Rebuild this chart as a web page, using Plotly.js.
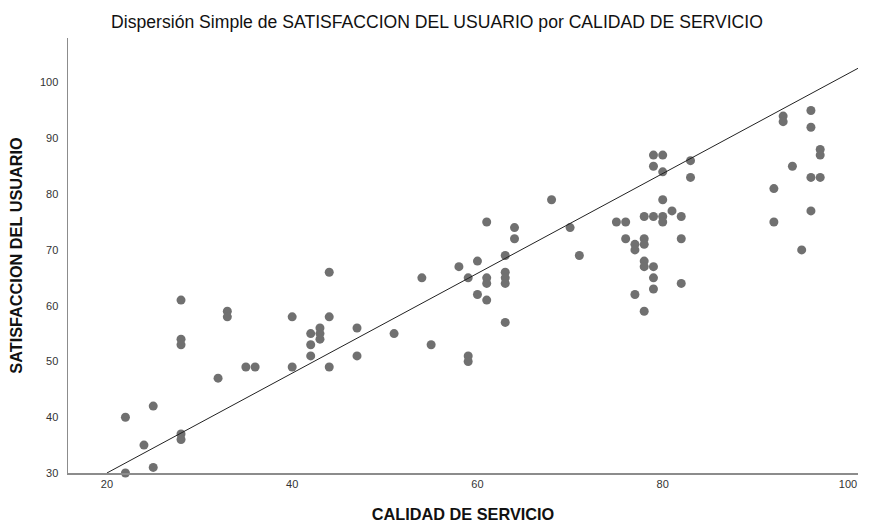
<!DOCTYPE html>
<html>
<head>
<meta charset="utf-8">
<script src="https://cdn.plot.ly/plotly-3.0.1.min.js"></script>
<style>html,body{margin:0;padding:0;background:#fff;}#chart{width:874px;height:525px;}</style>
</head>
<body>
<div id="chart"></div>
<script>
// CALIDAD DE SERVICIO (x) and SATISFACCION DEL USUARIO (y)
const calidad = [
  22, 22, 24, 25, 25, 28, 28, 28, 28, 28,
  32, 33, 33, 35, 36, 40, 40, 42, 42, 42,
  43, 43, 43, 44, 44, 44, 47, 47, 51, 54,
  55, 58, 59, 59, 59, 60, 60, 61, 61, 61, 61,
  63, 63, 63, 63, 63, 64, 64, 68, 70, 71,
  75, 76, 76, 77, 77, 77, 78, 78, 78, 78, 78, 78,
  79, 79, 79, 79, 79, 79, 80, 80, 80, 80, 80,
  81, 82, 82, 82, 83, 83,
  92, 92, 93, 93, 94, 95, 96, 96, 96, 96, 97, 97, 97
];
const satisfaccion = [
  40, 30, 35, 42, 31, 61, 54, 53, 37, 36,
  47, 59, 58, 49, 49, 58, 49, 55, 53, 51,
  56, 55, 54, 66, 58, 49, 56, 51, 55, 65,
  53, 67, 65, 51, 50, 68, 62, 75, 65, 64, 61,
  69, 66, 65, 64, 57, 74, 72, 79, 74, 69,
  75, 75, 72, 71, 70, 62, 76, 72, 71, 68, 67, 59,
  87, 85, 76, 67, 65, 63, 87, 84, 79, 76, 75,
  77, 76, 72, 64, 86, 83,
  81, 75, 94, 93, 85, 70, 95, 92, 83, 77, 88, 87, 83
];
// Fit line
const fitIntercept = 12.1;
const fitSlope = 0.895;
const xRange = [15.8, 101.08];
const yRange = [30, 108];
const xTicks = [20, 40, 60, 80, 100];
const yTicks = [30, 40, 50, 60, 70, 80, 90, 100];

const fitX = [20, xRange[1]];
const fitY = fitX.map(v => fitIntercept + fitSlope * v);

const traces = [
  {
    x: calidad, y: satisfaccion, type: 'scatter', mode: 'markers',
    marker: {color: 'rgb(112,112,112)', size: 9, line: {width: 0}},
    cliponaxis: false, hoverinfo: 'x+y', showlegend: false
  },
  {
    x: fitX, y: fitY, type: 'scatter', mode: 'lines',
    line: {color: '#222', width: 1}, showlegend: false, hoverinfo: 'skip'
  }
];

const layout = {
  width: 874, height: 525,
  margin: {l: 68, r: 16, t: 38, b: 52},
  paper_bgcolor: '#fff', plot_bgcolor: '#fff',
  font: {family: 'Liberation Sans, Arial, sans-serif', color: '#222'},
  title: {
    text: 'Dispersión Simple de SATISFACCION DEL USUARIO por CALIDAD DE SERVICIO',
    font: {size: 17.6, color: '#111'}, x: 0.5, xanchor: 'center', y: 0.958, yanchor: 'middle'
  },
  xaxis: {
    range: xRange, tickvals: xTicks, ticktext: xTicks.map(String),
    showgrid: false, zeroline: false, showline: true, linecolor: '#8c8c8c', linewidth: 1.5,
    ticks: '', tickfont: {size: 11, color: '#333'},
    title: {text: 'CALIDAD DE SERVICIO', font: {size: 16.3, color: '#111', weight: 'bold'}, standoff: 20}
  },
  yaxis: {
    range: yRange, tickvals: yTicks, ticktext: yTicks.map(String),
    showgrid: false, zeroline: false, showline: true, linecolor: '#8c8c8c', linewidth: 1.5,
    ticks: '', tickfont: {size: 11, color: '#333'}, ticklabelstandoff: 6,
    title: {text: 'SATISFACCION DEL USUARIO', font: {size: 16.3, color: '#111', weight: 'bold'}, standoff: 13}
  }
};

Plotly.newPlot('chart', traces, layout, {displayModeBar: false, staticPlot: true});
</script>
</body>
</html>
